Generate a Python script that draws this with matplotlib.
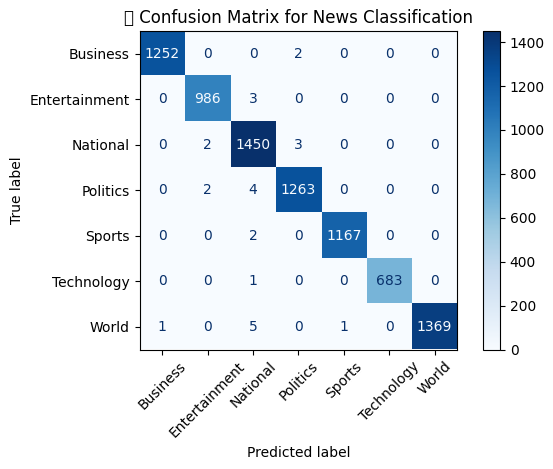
import matplotlib
matplotlib.use("Agg")
import matplotlib.pyplot as plt
import numpy as np

labels = ["Business", "Entertainment", "National", "Politics", "Sports", "Technology", "World"]
row_business = [1252, 0, 0, 2, 0, 0, 0]
row_entertainment = [0, 986, 3, 0, 0, 0, 0]
row_national = [0, 2, 1450, 3, 0, 0, 0]
row_politics = [0, 2, 4, 1263, 0, 0, 0]
row_sports = [0, 0, 2, 0, 1167, 0, 0]
row_technology = [0, 0, 1, 0, 0, 683, 0]
row_world = [1, 0, 5, 0, 1, 0, 1369]
title = "\U0001F4CA Confusion Matrix for News Classification"

cm = np.array([row_business, row_entertainment, row_national, row_politics, row_sports, row_technology, row_world])

fig = plt.figure(figsize=(5.53, 4.69), dpi=100)
left, right, top, bottom = 139.6, 457.3, 31.2, 349.5
ax = fig.add_axes([left/553, 1-bottom/469, (right-left)/553, (bottom-top)/469])
im = ax.imshow(cm, cmap="Blues", interpolation="nearest", aspect="auto")
cmap = im.cmap
for i in range(cm.shape[0]):
    for j in range(cm.shape[1]):
        color = cmap(0) if cm[i, j] > cm.max() / 2 else cmap(cmap.N - 1)
        ax.text(j, i, str(cm[i, j]), ha="center", va="center", color=color, fontsize=10)
ax.set_xticks(range(7), labels, rotation=45)
ax.set_yticks(range(7), labels)
ax.set_xlabel("Predicted label")
ax.set_ylabel("True label")
ax.set_title(title, fontsize=12)
cax = fig.add_axes([483/553, 1-bottom/469, 17/553, (bottom-top)/469])
fig.colorbar(im, cax=cax)
fig.savefig("out.png", dpi=100)
